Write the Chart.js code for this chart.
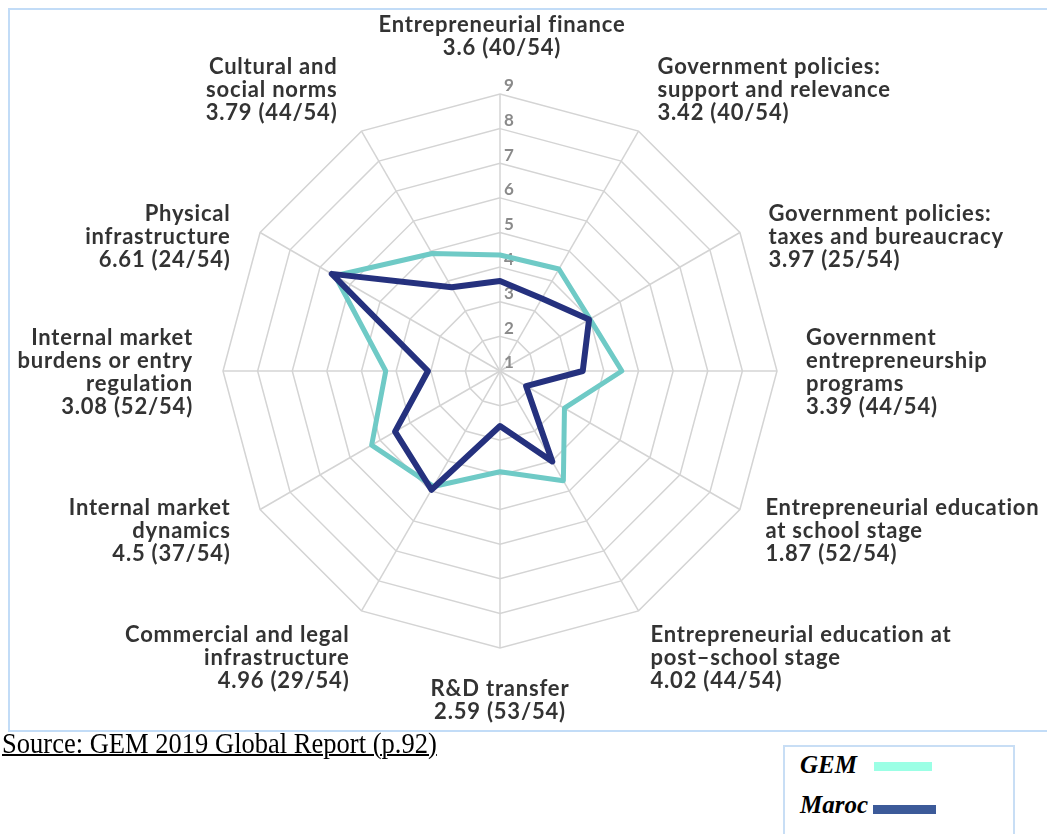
<!DOCTYPE html>
<html>
<head>
<meta charset="utf-8">
<script src="https://cdn.jsdelivr.net/npm/chart.js@4.4.1/dist/chart.umd.min.js"></script>
<style>
  body { margin: 0; background: #fff; }
  #wrap { position: relative; width: 1047px; height: 834px; overflow: hidden; }
  #frame { position: absolute; left: 8px; top: 8px; width: 1060px; height: 724px; border: 2px solid #c2dcf7; box-sizing: border-box; }
  #chart { position: absolute; left: 0; top: 0; }
  #source { position: absolute; left: 2px; top: 729px; font-family: "Liberation Serif", "Times New Roman", serif; font-size: 29px; line-height: 29px; text-decoration: underline; text-decoration-thickness: 2px; color: #000; white-space: nowrap; transform: scaleX(0.915); transform-origin: left top; }
  #legend { position: absolute; left: 783px; top: 745px; width: 232px; height: 100px; border: 2px solid #c8def5; box-sizing: border-box; font-family: "Liberation Serif", "Times New Roman", serif; font-weight: bold; font-style: italic; font-size: 25px; color: #000; }
  .item { position: absolute; left: 15px; height: 25px; line-height: 25px; }
  .sw { position: absolute; }
</style>
</head>
<body>
<div id="wrap">
  <div id="frame"></div>
  <canvas id="chart" width="1047" height="740"></canvas>
  <div id="source">Source: GEM 2019 Global Report (p.92)</div>
  <div id="legend">
    <div class="item" style="top:5px">GEM</div>
    <div class="sw" style="left:89px; top:15px; width:58px; height:9px; background:#9bffe5"></div>
    <div class="item" style="top:45px">Maroc</div>
    <div class="sw" style="left:88px; top:58px; width:63px; height:9px; background:#3c5a99"></div>
  </div>
</div>
<script>
// axis names, clockwise from the top
const categories = [
  ["Entrepreneurial finance"],
  ["Government policies:", "support and relevance"],
  ["Government policies:", "taxes and bureaucracy"],
  ["Government", "entrepreneurship", "programs"],
  ["Entrepreneurial education", "at school stage"],
  ["Entrepreneurial education at", "post\u2013school stage"],
  ["R&D transfer"],
  ["Commercial and legal", "infrastructure"],
  ["Internal market", "dynamics"],
  ["Internal market", "burdens or entry", "regulation"],
  ["Physical", "infrastructure"],
  ["Cultural and", "social norms"]
];

const marocScores = [3.6, 3.42, 3.97, 3.39, 1.87, 4.02, 2.59, 4.96, 4.5, 3.08, 6.61, 3.79];
const marocRanks = ["40/54", "40/54", "25/54", "44/54", "52/54", "44/54", "53/54", "29/54", "37/54", "52/54", "24/54", "44/54"];
const gemScores = [4.35, 4.4, 4.0, 4.52, 3.15, 4.66, 3.91, 4.85, 5.28, 4.3, 6.5, 4.92];
const tickValues = [1, 2, 3, 4, 5, 6, 7, 8, 9];

// where each axis label sits next to its spoke
const labelPlace = [
  { align: 'center', v: 'bottom', dx: 2, dy: -9 },
  { align: 'left', v: 'bottom', dx: 6, dy: 16 },
  { align: 'left', v: 'middle', dx: 6, dy: 17 },
  { align: 'left', v: 'middle', dx: 3, dy: 1 },
  { align: 'left', v: 'middle', dx: 3, dy: 8 },
  { align: 'left', v: 'top', dx: -1, dy: -10 },
  { align: 'center', v: 'top', dx: 0, dy: 3 },
  { align: 'right', v: 'top', dx: 1, dy: -10 },
  { align: 'right', v: 'middle', dx: -7, dy: 8 },
  { align: 'right', v: 'middle', dx: -4, dy: 1 },
  { align: 'right', v: 'middle', dx: -7, dy: 17 },
  { align: 'right', v: 'bottom', dx: -11, dy: 16 }
];

const tickText = {
  id: 'tickText',
  beforeDatasetsDraw(chart) {
    const r = chart.scales.r;
    const ctx = chart.ctx;
    ctx.save();
    ctx.font = 'bold 17px Lato, sans-serif';
    ctx.fillStyle = '#8a8a8a';
    ctx.textAlign = 'left';
    ctx.textBaseline = 'middle';
    tickValues.forEach(v => {
      const y = r.yCenter - r.getDistanceFromCenterForValue(v);
      ctx.fillText(String(v), r.xCenter + 4, y - 8);
    });
    ctx.restore();
  }
};

const axisText = {
  id: 'axisText',
  afterDraw(chart) {
    const r = chart.scales.r;
    const ctx = chart.ctx;
    const lh = 23;
    ctx.save();
    ctx.font = 'bold 22px Lato, sans-serif';
    ctx.letterSpacing = '0.8px';
    ctx.fillStyle = '#333333';
    ctx.textBaseline = 'middle';
    categories.forEach((lines, i) => {
      const all = lines.concat([marocScores[i] + ' (' + marocRanks[i] + ')']);
      const p = r.getPointPosition(i, r.drawingArea + 26);
      const pl = labelPlace[i];
      const h = all.length * lh;
      let top = p.y + pl.dy;
      if (pl.v === 'bottom') top -= h;
      else if (pl.v === 'middle') top -= h / 2;
      ctx.textAlign = pl.align;
      all.forEach((t, k) => ctx.fillText(t, p.x + pl.dx, top + lh * (k + 0.5)));
    });
    ctx.restore();
  }
};

new Chart(document.getElementById('chart'), {
  type: 'radar',
  data: {
    labels: categories.map(c => c.join(' ')),
    datasets: [
      {
        label: 'GEM',
        data: gemScores,
        borderColor: '#6fcac6',
        borderWidth: 5,
        fill: false,
        order: 1
      },
      {
        label: 'Maroc',
        data: marocScores,
        borderColor: '#25317e',
        borderWidth: 6,
        fill: false,
        order: 0
      }
    ]
  },
  options: {
    responsive: false,
    animation: false,
    devicePixelRatio: 1,
    layout: { padding: { left: 223, right: 270, top: 94, bottom: 92 } },
    plugins: {
      legend: { display: false },
      tooltip: { enabled: false }
    },
    elements: {
      line: { tension: 0, borderJoinStyle: 'round' },
      point: { radius: 0 }
    },
    scales: {
      r: {
        min: 1,
        max: 9,
        ticks: { stepSize: 1, display: false },
        grid: { color: '#d4d4d4', lineWidth: 1.5 },
        angleLines: { color: '#d4d4d4', lineWidth: 1.5 },
        pointLabels: { display: false }
      }
    }
  },
  plugins: [tickText, axisText]
});
</script>
</body>
</html>
